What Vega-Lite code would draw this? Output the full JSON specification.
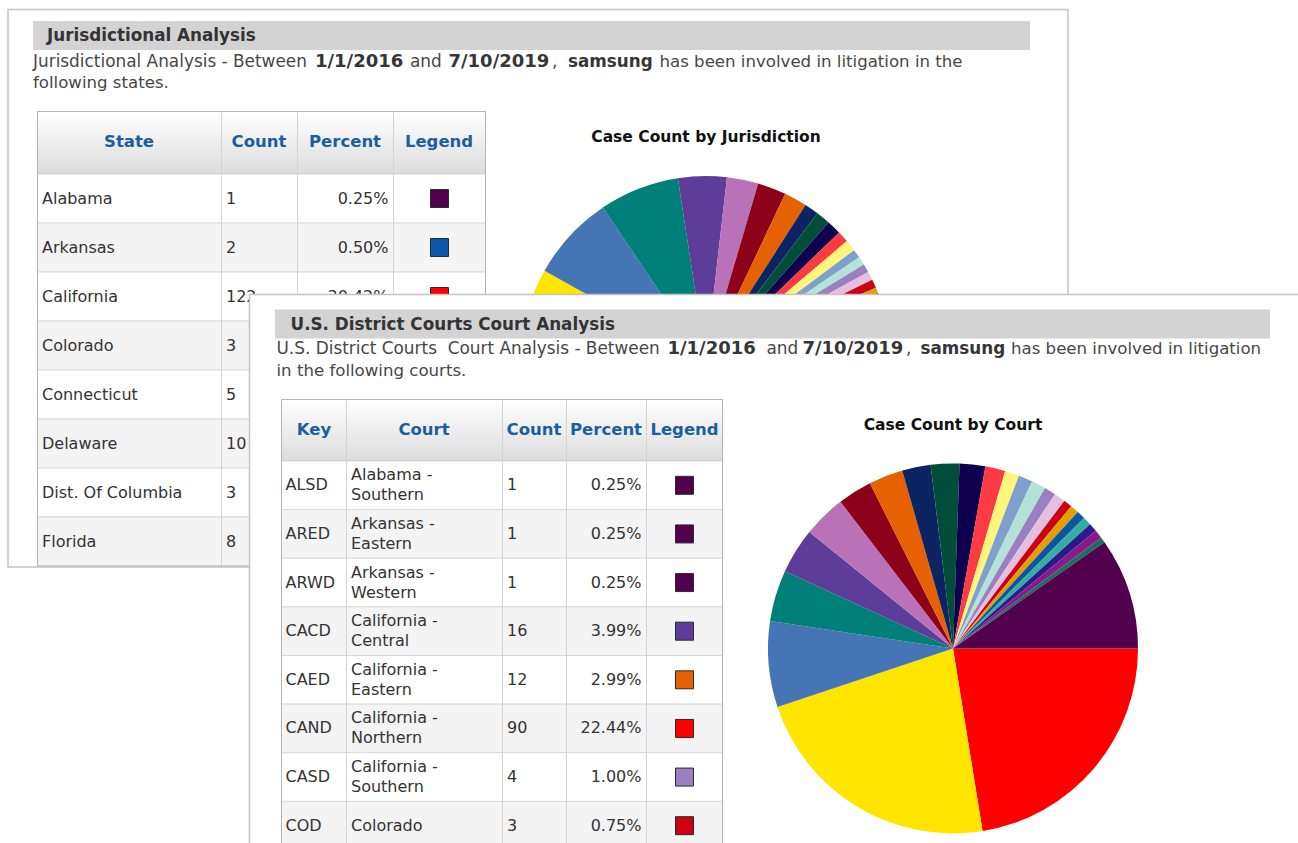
{
"$schema": "https://vega.github.io/schema/vega-lite/v6.json",
"width": 1298, "height": 843, "padding": 0, "autosize": {"type": "none"},
"background": "#ffffff",
"config": {"view": {"stroke": null}, "text": {"font": "DejaVu Sans"}},
"data": {"values": [{"k": 1}]},
"datasets": {
 "states": [
  {"state": "Alabama", "count": 1, "percent": 0.0025, "rank": 25},
  {"state": "Arkansas", "count": 2, "percent": 0.005, "rank": 20},
  {"state": "California", "count": 122, "percent": 0.3042, "rank": 1},
  {"state": "Colorado", "count": 3, "percent": 0.0075, "rank": 14},
  {"state": "Connecticut", "count": 5, "percent": 0.0125, "rank": 10},
  {"state": "Delaware", "count": 10, "percent": 0.0249, "rank": 7},
  {"state": "Dist. Of Columbia", "count": 3, "percent": 0.0075, "rank": 15},
  {"state": "Florida", "count": 8, "percent": 0.02, "rank": 8}
 ],
 "courts": [
  {"key": "ALSD", "court": "Alabama -\nSouthern", "count": 1, "percent": 0.0025, "rank": 25},
  {"key": "ARED", "court": "Arkansas -\nEastern", "count": 1, "percent": 0.0025, "rank": 25},
  {"key": "ARWD", "court": "Arkansas -\nWestern", "count": 1, "percent": 0.0025, "rank": 25},
  {"key": "CACD", "court": "California -\nCentral", "count": 16, "percent": 0.0399, "rank": 5},
  {"key": "CAED", "court": "California -\nEastern", "count": 12, "percent": 0.0299, "rank": 8},
  {"key": "CAND", "court": "California -\nNorthern", "count": 90, "percent": 0.2244, "rank": 1},
  {"key": "CASD", "court": "California -\nSouthern", "count": 4, "percent": 0.01, "rank": 16},
  {"key": "COD", "court": "Colorado", "count": 3, "percent": 0.0075, "rank": 18}
 ],
 "statePie": [
  {"rank": 1, "count": 122}, {"rank": 2, "count": 111}, {"rank": 3, "count": 30}, {"rank": 4, "count": 28},
  {"rank": 5, "count": 17}, {"rank": 6, "count": 11}, {"rank": 7, "count": 10}, {"rank": 8, "count": 8},
  {"rank": 9, "count": 5}, {"rank": 10, "count": 5}, {"rank": 11, "count": 5}, {"rank": 12, "count": 4},
  {"rank": 13, "count": 4}, {"rank": 14, "count": 3}, {"rank": 15, "count": 3}, {"rank": 16, "count": 3},
  {"rank": 17, "count": 3}, {"rank": 18, "count": 3}, {"rank": 19, "count": 2}, {"rank": 20, "count": 2},
  {"rank": 21, "count": 2}, {"rank": 22, "count": 2}, {"rank": 23, "count": 2}, {"rank": 24, "count": 2},
  {"rank": 25, "count": 14}
 ],
 "courtPie": [
  {"rank": 1, "count": 90}, {"rank": 2, "count": 90}, {"rank": 3, "count": 30}, {"rank": 4, "count": 18},
  {"rank": 5, "count": 16}, {"rank": 6, "count": 15}, {"rank": 7, "count": 12}, {"rank": 8, "count": 12},
  {"rank": 9, "count": 10}, {"rank": 10, "count": 10}, {"rank": 11, "count": 9}, {"rank": 12, "count": 7},
  {"rank": 13, "count": 5}, {"rank": 14, "count": 5}, {"rank": 15, "count": 5}, {"rank": 16, "count": 4},
  {"rank": 17, "count": 4}, {"rank": 18, "count": 3}, {"rank": 19, "count": 3}, {"rank": 20, "count": 3},
  {"rank": 21, "count": 3}, {"rank": 22, "count": 3}, {"rank": 23, "count": 3}, {"rank": 24, "count": 2},
  {"rank": 25, "count": 39}
 ]
},
"resolve": {"scale": {"y": "independent", "theta": "independent"}},
"layer": [
 {"mark": {"type": "rect", "fill": "#ffffff", "stroke": "#c4c4c4", "strokeWidth": 1.5},
  "encoding": {"x": {"value": 8}, "x2": {"value": 1068}, "y": {"value": 9.5}, "y2": {"value": 567}}},
 {"mark": {"type": "rect", "fill": "#d3d3d3"},
  "encoding": {"x": {"value": 33}, "x2": {"value": 1030}, "y": {"value": 21}, "y2": {"value": 50}}},
 {"mark": {"type": "text", "text": "Jurisdictional Analysis", "fontWeight": "bold", "fontSize": 16.8, "color": "#333333", "align": "left", "baseline": "middle"},
  "encoding": {"x": {"value": 47}, "y": {"value": 36}}},
 {"mark": {"type": "text", "text": "Jurisdictional Analysis - Between", "fontSize": 16.9, "color": "#474747", "align": "left", "baseline": "middle"},
  "encoding": {"x": {"value": 33}, "y": {"value": 61.5}}},
 {"mark": {"type": "text", "text": "1/1/2016", "fontWeight": "bold", "fontSize": 18, "color": "#363636", "align": "left", "baseline": "middle"},
  "encoding": {"x": {"value": 315}, "y": {"value": 61.5}}},
 {"mark": {"type": "text", "text": "and", "fontSize": 16.9, "color": "#474747", "align": "left", "baseline": "middle"},
  "encoding": {"x": {"value": 410}, "y": {"value": 61.5}}},
 {"mark": {"type": "text", "text": "7/10/2019", "fontWeight": "bold", "fontSize": 18, "color": "#363636", "align": "left", "baseline": "middle"},
  "encoding": {"x": {"value": 448.5}, "y": {"value": 61.5}}},
 {"mark": {"type": "text", "text": ",", "fontSize": 16.9, "color": "#474747", "align": "left", "baseline": "middle"},
  "encoding": {"x": {"value": 552}, "y": {"value": 61.5}}},
 {"mark": {"type": "text", "text": "samsung", "fontWeight": "bold", "fontSize": 16.8, "color": "#363636", "align": "left", "baseline": "middle"},
  "encoding": {"x": {"value": 568}, "y": {"value": 61.5}}},
 {"mark": {"type": "text", "text": "has been involved in litigation in the", "fontSize": 16.6, "color": "#474747", "align": "left", "baseline": "middle"},
  "encoding": {"x": {"value": 659.5}, "y": {"value": 61.5}}},
 {"mark": {"type": "text", "text": "following states.", "fontSize": 16.6, "color": "#474747", "align": "left", "baseline": "middle"},
  "encoding": {"x": {"value": 33}, "y": {"value": 83}}},

 {"mark": {"type": "rect", "stroke": "#b9b9b9", "strokeWidth": 1, "color": {"x1": 0, "y1": 0, "x2": 0, "y2": 1, "gradient": "linear", "stops": [{"offset": 0, "color": "#ffffff"}, {"offset": 1, "color": "#dcdcdc"}]}},
  "encoding": {"x": {"value": 37.5}, "x2": {"value": 485.5}, "y": {"value": 111.5}, "y2": {"value": 174}}},
 {"mark": {"type": "text", "text": "State", "fontWeight": "bold", "fontSize": 16.5, "color": "#1b5e9f", "align": "center", "baseline": "middle"},
  "encoding": {"x": {"value": 129}, "y": {"value": 142}}},
 {"mark": {"type": "text", "text": "Count", "fontWeight": "bold", "fontSize": 16.5, "color": "#1b5e9f", "align": "center", "baseline": "middle"},
  "encoding": {"x": {"value": 259}, "y": {"value": 142}}},
 {"mark": {"type": "text", "text": "Percent", "fontWeight": "bold", "fontSize": 16.5, "color": "#1b5e9f", "align": "center", "baseline": "middle"},
  "encoding": {"x": {"value": 345}, "y": {"value": 142}}},
 {"mark": {"type": "text", "text": "Legend", "fontWeight": "bold", "fontSize": 16.5, "color": "#1b5e9f", "align": "center", "baseline": "middle"},
  "encoding": {"x": {"value": 439}, "y": {"value": 142}}},
 {"data": {"name": "states"},
  "mark": {"type": "rect", "stroke": "#dadada", "strokeWidth": 1},
  "encoding": {"x": {"value": 37.5}, "x2": {"value": 485.5},
   "y": {"field": "state", "type": "nominal", "sort": null, "scale": {"range": [174, 566], "paddingInner": 0, "paddingOuter": 0}, "axis": null},
   "color": {"condition": {"test": "indexof(['Arkansas','Colorado','Delaware','Florida'], datum.state) >= 0", "value": "#f4f4f4"}, "value": "#ffffff"}}},
 {"mark": {"type": "rule", "color": "#d4d4d4"}, "encoding": {"x": {"value": 221.5}, "y": {"value": 111.5}, "y2": {"value": 566}}},
 {"mark": {"type": "rule", "color": "#d4d4d4"}, "encoding": {"x": {"value": 297.5}, "y": {"value": 111.5}, "y2": {"value": 566}}},
 {"mark": {"type": "rule", "color": "#d4d4d4"}, "encoding": {"x": {"value": 393.5}, "y": {"value": 111.5}, "y2": {"value": 566}}},
 {"mark": {"type": "rect", "filled": false, "stroke": "#b5b5b5", "strokeWidth": 1},
  "encoding": {"x": {"value": 37.5}, "x2": {"value": 485.5}, "y": {"value": 111.5}, "y2": {"value": 566}}},
 {"data": {"name": "states"},
  "mark": {"type": "text", "fontSize": 16, "color": "#333333", "align": "left", "baseline": "middle"},
  "encoding": {"x": {"value": 42},
   "y": {"field": "state", "type": "nominal", "sort": null, "scale": {"range": [174, 566], "paddingInner": 0, "paddingOuter": 0}, "axis": null},
   "text": {"field": "state"}}},
 {"data": {"name": "states"},
  "mark": {"type": "text", "fontSize": 16, "color": "#333333", "align": "left", "baseline": "middle"},
  "encoding": {"x": {"value": 226},
   "y": {"field": "state", "type": "nominal", "sort": null, "scale": {"range": [174, 566], "paddingInner": 0, "paddingOuter": 0}, "axis": null},
   "text": {"field": "count", "type": "quantitative"}}},
 {"data": {"name": "states"},
  "transform": [{"filter": {"field": "state", "oneOf": ["Alabama", "Arkansas", "California"]}}],
  "mark": {"type": "text", "fontSize": 16, "color": "#333333", "align": "right", "baseline": "middle"},
  "encoding": {"x": {"value": 388.5},
   "y": {"field": "state", "type": "nominal", "sort": null, "scale": {"domain": ["Alabama", "Arkansas", "California", "Colorado", "Connecticut", "Delaware", "Dist. Of Columbia", "Florida"], "range": [174, 566], "paddingInner": 0, "paddingOuter": 0}, "axis": null},
   "text": {"field": "percent", "type": "quantitative", "format": ".2%"}}},
 {"data": {"name": "states"},
  "mark": {"type": "square", "size": 324, "filled": true, "opacity": 1, "stroke": "#2a2a2a", "strokeWidth": 1},
  "encoding": {"x": {"value": 439.5},
   "y": {"field": "state", "type": "nominal", "sort": null, "scale": {"range": [174, 566], "paddingInner": 0, "paddingOuter": 0}, "axis": null},
   "color": {"field": "rank", "type": "ordinal", "legend": null,
    "scale": {"domain": [1,2,3,4,5,6,7,8,9,10,11,12,13,14,15,16,17,18,19,20,21,22,23,24,25],
     "range": ["#ff0000","#ffe500","#4575b4","#008078","#5e3c99","#b972b7","#8c0019","#e66101","#0c2461","#004d3a","#0f004f","#fe3b43","#fff57a","#7fa0cc","#b3e2d6","#9a80c0","#e5bfe0","#cc0012","#e0a000","#0b55a8","#33ae9f","#2a1a8a","#8a1a8c","#1b6e60","#52004d"]}}}},

 {"mark": {"type": "text", "text": "Case Count by Jurisdiction", "fontWeight": "bold", "fontSize": 15.5, "color": "#111111", "align": "center", "baseline": "middle"},
  "encoding": {"x": {"value": 706}, "y": {"value": 137}}},
 {"data": {"name": "statePie"},
  "mark": {"type": "arc", "radius": 185},
  "encoding": {"x": {"value": 706}, "y": {"value": 361},
   "theta": {"field": "count", "type": "quantitative", "stack": true, "scale": {"range": [1.5707963, 7.8539816]}},
   "order": {"field": "rank", "type": "quantitative"},
   "color": {"field": "rank", "type": "ordinal", "legend": null,
    "scale": {"domain": [1,2,3,4,5,6,7,8,9,10,11,12,13,14,15,16,17,18,19,20,21,22,23,24,25],
     "range": ["#ff0000","#ffe500","#4575b4","#008078","#5e3c99","#b972b7","#8c0019","#e66101","#0c2461","#004d3a","#0f004f","#fe3b43","#fff57a","#7fa0cc","#b3e2d6","#9a80c0","#e5bfe0","#cc0012","#e0a000","#0b55a8","#33ae9f","#2a1a8a","#8a1a8c","#1b6e60","#52004d"]}}}},

 {"mark": {"type": "rect", "fill": "#ffffff", "stroke": "#c4c4c4", "strokeWidth": 1.5},
  "encoding": {"x": {"value": 249.5}, "x2": {"value": 1320}, "y": {"value": 294.5}, "y2": {"value": 870}}},
 {"mark": {"type": "rect", "fill": "#d3d3d3"},
  "encoding": {"x": {"value": 275}, "x2": {"value": 1270}, "y": {"value": 309.5}, "y2": {"value": 338.5}}},
 {"mark": {"type": "text", "text": "U.S. District Courts Court Analysis", "fontWeight": "bold", "fontSize": 16.8, "color": "#333333", "align": "left", "baseline": "middle"},
  "encoding": {"x": {"value": 290.5}, "y": {"value": 324.5}}},
 {"mark": {"type": "text", "text": "U.S. District Courts\u00a0 Court Analysis - Between", "fontSize": 16.9, "color": "#474747", "align": "left", "baseline": "middle"},
  "encoding": {"x": {"value": 276.5}, "y": {"value": 349}}},
 {"mark": {"type": "text", "text": "1/1/2016", "fontWeight": "bold", "fontSize": 18, "color": "#363636", "align": "left", "baseline": "middle"},
  "encoding": {"x": {"value": 667.5}, "y": {"value": 349}}},
 {"mark": {"type": "text", "text": "and", "fontSize": 16.9, "color": "#474747", "align": "left", "baseline": "middle"},
  "encoding": {"x": {"value": 766.5}, "y": {"value": 349}}},
 {"mark": {"type": "text", "text": "7/10/2019", "fontWeight": "bold", "fontSize": 18, "color": "#363636", "align": "left", "baseline": "middle"},
  "encoding": {"x": {"value": 802.5}, "y": {"value": 349}}},
 {"mark": {"type": "text", "text": ",", "fontSize": 16.9, "color": "#474747", "align": "left", "baseline": "middle"},
  "encoding": {"x": {"value": 906}, "y": {"value": 349}}},
 {"mark": {"type": "text", "text": "samsung", "fontWeight": "bold", "fontSize": 16.8, "color": "#363636", "align": "left", "baseline": "middle"},
  "encoding": {"x": {"value": 920.5}, "y": {"value": 349}}},
 {"mark": {"type": "text", "text": "has been involved in litigation", "fontSize": 16.6, "color": "#474747", "align": "left", "baseline": "middle"},
  "encoding": {"x": {"value": 1011}, "y": {"value": 349}}},
 {"mark": {"type": "text", "text": "in the following courts.", "fontSize": 16.6, "color": "#474747", "align": "left", "baseline": "middle"},
  "encoding": {"x": {"value": 276.5}, "y": {"value": 370.5}}},

 {"mark": {"type": "rect", "stroke": "#b9b9b9", "strokeWidth": 1, "color": {"x1": 0, "y1": 0, "x2": 0, "y2": 1, "gradient": "linear", "stops": [{"offset": 0, "color": "#ffffff"}, {"offset": 1, "color": "#dcdcdc"}]}},
  "encoding": {"x": {"value": 281.5}, "x2": {"value": 722.5}, "y": {"value": 399.5}, "y2": {"value": 461}}},
 {"mark": {"type": "text", "text": "Key", "fontWeight": "bold", "fontSize": 16.5, "color": "#1b5e9f", "align": "center", "baseline": "middle"},
  "encoding": {"x": {"value": 314}, "y": {"value": 430}}},
 {"mark": {"type": "text", "text": "Court", "fontWeight": "bold", "fontSize": 16.5, "color": "#1b5e9f", "align": "center", "baseline": "middle"},
  "encoding": {"x": {"value": 424}, "y": {"value": 430}}},
 {"mark": {"type": "text", "text": "Count", "fontWeight": "bold", "fontSize": 16.5, "color": "#1b5e9f", "align": "center", "baseline": "middle"},
  "encoding": {"x": {"value": 534}, "y": {"value": 430}}},
 {"mark": {"type": "text", "text": "Percent", "fontWeight": "bold", "fontSize": 16.5, "color": "#1b5e9f", "align": "center", "baseline": "middle"},
  "encoding": {"x": {"value": 606}, "y": {"value": 430}}},
 {"mark": {"type": "text", "text": "Legend", "fontWeight": "bold", "fontSize": 16.5, "color": "#1b5e9f", "align": "center", "baseline": "middle"},
  "encoding": {"x": {"value": 684.5}, "y": {"value": 430}}},
 {"data": {"name": "courts"},
  "mark": {"type": "rect", "stroke": "#dadada", "strokeWidth": 1},
  "encoding": {"x": {"value": 281.5}, "x2": {"value": 722.5},
   "y": {"field": "key", "type": "nominal", "sort": null, "scale": {"range": [461, 850], "paddingInner": 0, "paddingOuter": 0}, "axis": null},
   "color": {"condition": {"test": "indexof(['ARED','CACD','CAND','COD'], datum.key) >= 0", "value": "#f4f4f4"}, "value": "#ffffff"}}},
 {"mark": {"type": "rule", "color": "#d4d4d4"}, "encoding": {"x": {"value": 346.5}, "y": {"value": 399.5}, "y2": {"value": 850}}},
 {"mark": {"type": "rule", "color": "#d4d4d4"}, "encoding": {"x": {"value": 502.5}, "y": {"value": 399.5}, "y2": {"value": 850}}},
 {"mark": {"type": "rule", "color": "#d4d4d4"}, "encoding": {"x": {"value": 566.5}, "y": {"value": 399.5}, "y2": {"value": 850}}},
 {"mark": {"type": "rule", "color": "#d4d4d4"}, "encoding": {"x": {"value": 646.5}, "y": {"value": 399.5}, "y2": {"value": 850}}},
 {"mark": {"type": "rect", "filled": false, "stroke": "#b5b5b5", "strokeWidth": 1},
  "encoding": {"x": {"value": 281.5}, "x2": {"value": 722.5}, "y": {"value": 399.5}, "y2": {"value": 850}}},
 {"data": {"name": "courts"},
  "mark": {"type": "text", "fontSize": 16, "color": "#333333", "align": "left", "baseline": "middle"},
  "encoding": {"x": {"value": 285.5},
   "y": {"field": "key", "type": "nominal", "sort": null, "scale": {"range": [461, 850], "paddingInner": 0, "paddingOuter": 0}, "axis": null},
   "text": {"field": "key"}}},
 {"data": {"name": "courts"},
  "transform": [{"filter": "indexof(datum.court, '\\n') >= 0"}],
  "mark": {"type": "text", "fontSize": 16, "color": "#333333", "align": "left", "baseline": "middle", "lineBreak": "\n", "lineHeight": 20, "dy": -10},
  "encoding": {"x": {"value": 351},
   "y": {"field": "key", "type": "nominal", "sort": null, "scale": {"domain": ["ALSD","ARED","ARWD","CACD","CAED","CAND","CASD","COD"], "range": [461, 850], "paddingInner": 0, "paddingOuter": 0}, "axis": null},
   "text": {"field": "court"}}},
 {"data": {"name": "courts"},
  "transform": [{"filter": "indexof(datum.court, '\\n') < 0"}],
  "mark": {"type": "text", "fontSize": 16, "color": "#333333", "align": "left", "baseline": "middle"},
  "encoding": {"x": {"value": 351},
   "y": {"field": "key", "type": "nominal", "sort": null, "scale": {"domain": ["ALSD","ARED","ARWD","CACD","CAED","CAND","CASD","COD"], "range": [461, 850], "paddingInner": 0, "paddingOuter": 0}, "axis": null},
   "text": {"field": "court"}}},
 {"data": {"name": "courts"},
  "mark": {"type": "text", "fontSize": 16, "color": "#333333", "align": "left", "baseline": "middle"},
  "encoding": {"x": {"value": 507},
   "y": {"field": "key", "type": "nominal", "sort": null, "scale": {"range": [461, 850], "paddingInner": 0, "paddingOuter": 0}, "axis": null},
   "text": {"field": "count", "type": "quantitative"}}},
 {"data": {"name": "courts"},
  "mark": {"type": "text", "fontSize": 16, "color": "#333333", "align": "right", "baseline": "middle"},
  "encoding": {"x": {"value": 641.5},
   "y": {"field": "key", "type": "nominal", "sort": null, "scale": {"range": [461, 850], "paddingInner": 0, "paddingOuter": 0}, "axis": null},
   "text": {"field": "percent", "type": "quantitative", "format": ".2%"}}},
 {"data": {"name": "courts"},
  "mark": {"type": "square", "size": 324, "filled": true, "opacity": 1, "stroke": "#2a2a2a", "strokeWidth": 1},
  "encoding": {"x": {"value": 684.5},
   "y": {"field": "key", "type": "nominal", "sort": null, "scale": {"range": [461, 850], "paddingInner": 0, "paddingOuter": 0}, "axis": null},
   "color": {"field": "rank", "type": "ordinal", "legend": null,
    "scale": {"domain": [1,2,3,4,5,6,7,8,9,10,11,12,13,14,15,16,17,18,19,20,21,22,23,24,25],
     "range": ["#ff0000","#ffe500","#4575b4","#008078","#5e3c99","#b972b7","#8c0019","#e66101","#0c2461","#004d3a","#0f004f","#fe3b43","#fff57a","#7fa0cc","#b3e2d6","#9a80c0","#e5bfe0","#cc0012","#e0a000","#0b55a8","#33ae9f","#2a1a8a","#8a1a8c","#1b6e60","#52004d"]}}}},

 {"mark": {"type": "text", "text": "Case Count by Court", "fontWeight": "bold", "fontSize": 15.5, "color": "#111111", "align": "center", "baseline": "middle"},
  "encoding": {"x": {"value": 953}, "y": {"value": 425}}},
 {"data": {"name": "courtPie"},
  "mark": {"type": "arc", "radius": 185},
  "encoding": {"x": {"value": 953}, "y": {"value": 648.5},
   "theta": {"field": "count", "type": "quantitative", "stack": true, "scale": {"range": [1.5707963, 7.8539816]}},
   "order": {"field": "rank", "type": "quantitative"},
   "color": {"field": "rank", "type": "ordinal", "legend": null,
    "scale": {"domain": [1,2,3,4,5,6,7,8,9,10,11,12,13,14,15,16,17,18,19,20,21,22,23,24,25],
     "range": ["#ff0000","#ffe500","#4575b4","#008078","#5e3c99","#b972b7","#8c0019","#e66101","#0c2461","#004d3a","#0f004f","#fe3b43","#fff57a","#7fa0cc","#b3e2d6","#9a80c0","#e5bfe0","#cc0012","#e0a000","#0b55a8","#33ae9f","#2a1a8a","#8a1a8c","#1b6e60","#52004d"]}}}}
]
}
